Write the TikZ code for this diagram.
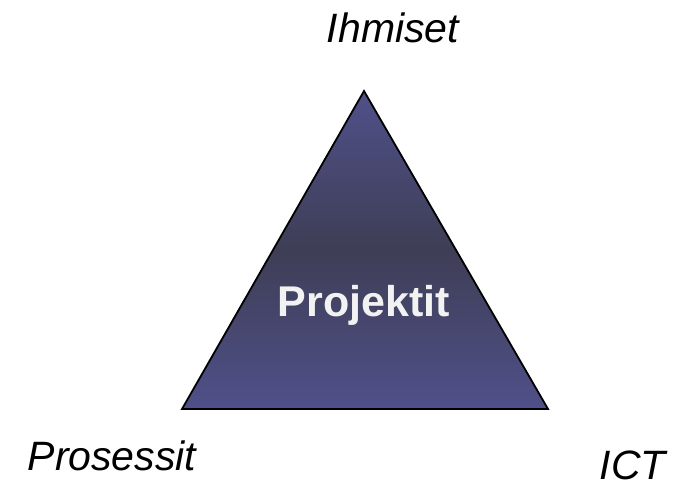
\documentclass[tikz,border=0pt]{standalone}
\usepackage{fontspec}
\setmainfont{Liberation Sans}
\definecolor{triedge}{HTML}{50508A}
\definecolor{trimid}{HTML}{3E3E56}
\definecolor{txtwhite}{HTML}{F2F2F2}
\tikzset{
  corner/.style={font=\fontsize{41}{48}\selectfont\itshape, text=black, anchor=base, inner sep=0pt},
  centerlabel/.style={font=\fontsize{43}{50}\selectfont\bfseries, text=txtwhite, anchor=base, inner sep=0pt},
  tri/.style={draw=black, line width=1.8pt, line join=miter, top color=triedge, bottom color=triedge, middle color=trimid}
}
\begin{document}
\begin{tikzpicture}[x=1pt,y=-1pt]
\useasboundingbox (0,0) rectangle (679,488);
\coordinate (apex) at (364,91);
\coordinate (bl) at (182,409);
\coordinate (br) at (548,409);
\path[tri] (apex) -- (br) -- (bl) -- cycle;
\node[centerlabel] (proj) at (364,316.5) {Projektit};
\node[corner] (ihm) at (393,42) {Ihmiset};
\node[corner] (pro) at (112,470) {Prosessit};
\node[corner] (ict) at (633,479) {ICT};
\end{tikzpicture}
\end{document}
